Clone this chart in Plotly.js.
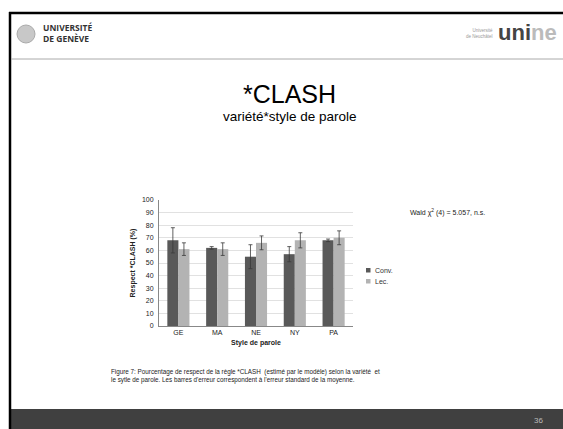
<!DOCTYPE html>
<html><head><meta charset="utf-8">
<script src="https://cdn.plot.ly/plotly-3.0.1.min.js"></script>
<style>html,body{margin:0;padding:0;background:#fff;}#chart{width:563px;height:429px;}</style>
</head><body><div id="chart"></div>
<script>
const categories = ['GE','MA','NE','NY','PA'];
const seriesNames = ['Conv.', 'Lec.'];
const convValues = [68, 62, 55, 57, 68];
const convErrors = [10, 1, 9.5, 6, 1];
const lecValues = [61, 61, 66, 68, 70];
const lecErrors = [5, 5, 5.5, 6, 5.5];
const yTicks = [0,10,20,30,40,50,60,70,80,90,100];

const W = 563, H = 429;
const px = x => x / W;
const py = y => 1 - y / H;
const F = 'Liberation Sans, Arial, sans-serif';
const colors = ['#595959', '#b3b3b3'];

const traces = [
  {type:'bar', name:seriesNames[0], x:categories, y:convValues, showlegend:false,
   marker:{color:colors[0]},
   error_y:{type:'data', array:convErrors, visible:true, color:'#3a3a3a', thickness:0.8, width:2}},
  {type:'bar', name:seriesNames[1], x:categories, y:lecValues, showlegend:false,
   marker:{color:colors[1]},
   error_y:{type:'data', array:lecErrors, visible:true, color:'#3a3a3a', thickness:0.8, width:2}}
];

const legendShapes = seriesNames.map((n, i) => ({type:'rect', xref:'paper', yref:'paper',
  x0:px(366), x1:px(370.5), y0:py(272.5 + i*11), y1:py(268 + i*11), fillcolor:colors[i], line:{width:0}}));
const legendTexts = seriesNames.map((n, i) => ({xref:'paper', yref:'paper', x:px(372.5), y:py(270.5 + i*11),
  text:n, showarrow:false, xanchor:'left', yanchor:'middle', font:{size:7, family:F, color:'#333'}}));

const layout = {
  width: W, height: H,
  margin: {l:0, r:0, t:0, b:0},
  paper_bgcolor:'#fff', plot_bgcolor:'#fff',
  barmode:'group', bargap:0.43, bargroupgap:0,
  font:{family:F, size:7, color:'#222'},
  xaxis:{domain:[px(159), px(353)], showgrid:false, showline:true, linecolor:'#888', linewidth:1,
    ticks:'', tickfont:{size:7, family:F, color:'#222'},
    title:{text:'<b>Style de parole</b>', font:{size:7, family:F, color:'#222'}, standoff:4}},
  yaxis:{domain:[py(326), py(200)], range:[0,100], tickvals:yTicks, showgrid:true, gridcolor:'#d9d9d9',
    gridwidth:0.8, showline:true, linecolor:'#888', linewidth:1, ticks:'', zeroline:false,
    ticklabelstandoff:3,
    tickfont:{size:7, family:F, color:'#222'},
    title:{text:'<b>Respect *CLASH (%)</b>', font:{size:7, family:F, color:'#222'}, standoff:5}},
  showlegend:false,
  shapes:[
    {type:'rect', xref:'paper', yref:'paper', x0:px(9), x1:1, y0:0, y1:py(409), fillcolor:'#404040', line:{width:0}},
    {type:'line', xref:'paper', yref:'paper', x0:px(9), x1:1, y0:py(13), y1:py(13), line:{color:'#000', width:2.5}},
    {type:'line', xref:'paper', yref:'paper', x0:px(10), x1:px(10), y0:0, y1:py(12), line:{color:'#000', width:2.5}},
    {type:'line', xref:'paper', yref:'paper', x0:px(11), x1:1, y0:py(59), y1:py(59), line:{color:'#aaa', width:1}},
    {type:'circle', xref:'paper', yref:'paper', x0:px(17), x1:px(35), y0:py(43), y1:py(25), fillcolor:'#c8c8c8', line:{color:'#aaa', width:1}}
  ].concat(legendShapes),
  annotations:[
    {xref:'paper', yref:'paper', x:px(41), y:py(33.5), text:'<b>UNIVERSITÉ</b><br><b>DE GENÈVE</b>', showarrow:false, xanchor:'left', yanchor:'middle', align:'left', font:{size:8.5, family:'Open Sans, '+F, color:'#333'}},
    {xref:'paper', yref:'paper', x:px(495), y:py(33.5), text:'Université<br>de Neuchâtel', showarrow:false, xanchor:'right', yanchor:'middle', align:'right', font:{size:4.5, family:F, color:'#999'}},
    {xref:'paper', yref:'paper', x:px(496), y:py(33), text:'<b>uni</b><span style="color:#bbb"><b>ne</b></span>', showarrow:false, xanchor:'left', yanchor:'middle', font:{size:22, family:F, color:'#444'}},
    {xref:'paper', yref:'paper', x:px(289), y:py(94), text:'*CLASH', showarrow:false, xanchor:'center', yanchor:'middle', font:{size:25, family:F, color:'#000'}},
    {xref:'paper', yref:'paper', x:px(290), y:py(117), text:'variété*style de parole', showarrow:false, xanchor:'center', yanchor:'middle', font:{size:13.5, family:F, color:'#000'}},
    {xref:'paper', yref:'paper', x:px(408), y:py(213), text:'Wald χ<sup>2</sup> (4) = 5.057, n.s.', showarrow:false, xanchor:'left', yanchor:'middle', font:{size:7, family:F, color:'#222'}},
    {xref:'paper', yref:'paper', x:px(109), y:py(376), text:'Figure 7: Pourcentage de respect de la règle *CLASH  (estimé par le modèle) selon la variété  et<br>le sytle de parole. Les barres d\'erreur correspondent à l\'erreur standard de la moyenne.', showarrow:false, xanchor:'left', yanchor:'middle', align:'left', font:{size:6.3, family:F, color:'#222'}},
    {xref:'paper', yref:'paper', x:px(545), y:py(420), text:'36', showarrow:false, xanchor:'right', yanchor:'middle', font:{size:8, family:F, color:'#bbb'}}
  ].concat(legendTexts)
};

Plotly.newPlot('chart', traces, layout, {displayModeBar:false, staticPlot:true});
</script></body></html>
